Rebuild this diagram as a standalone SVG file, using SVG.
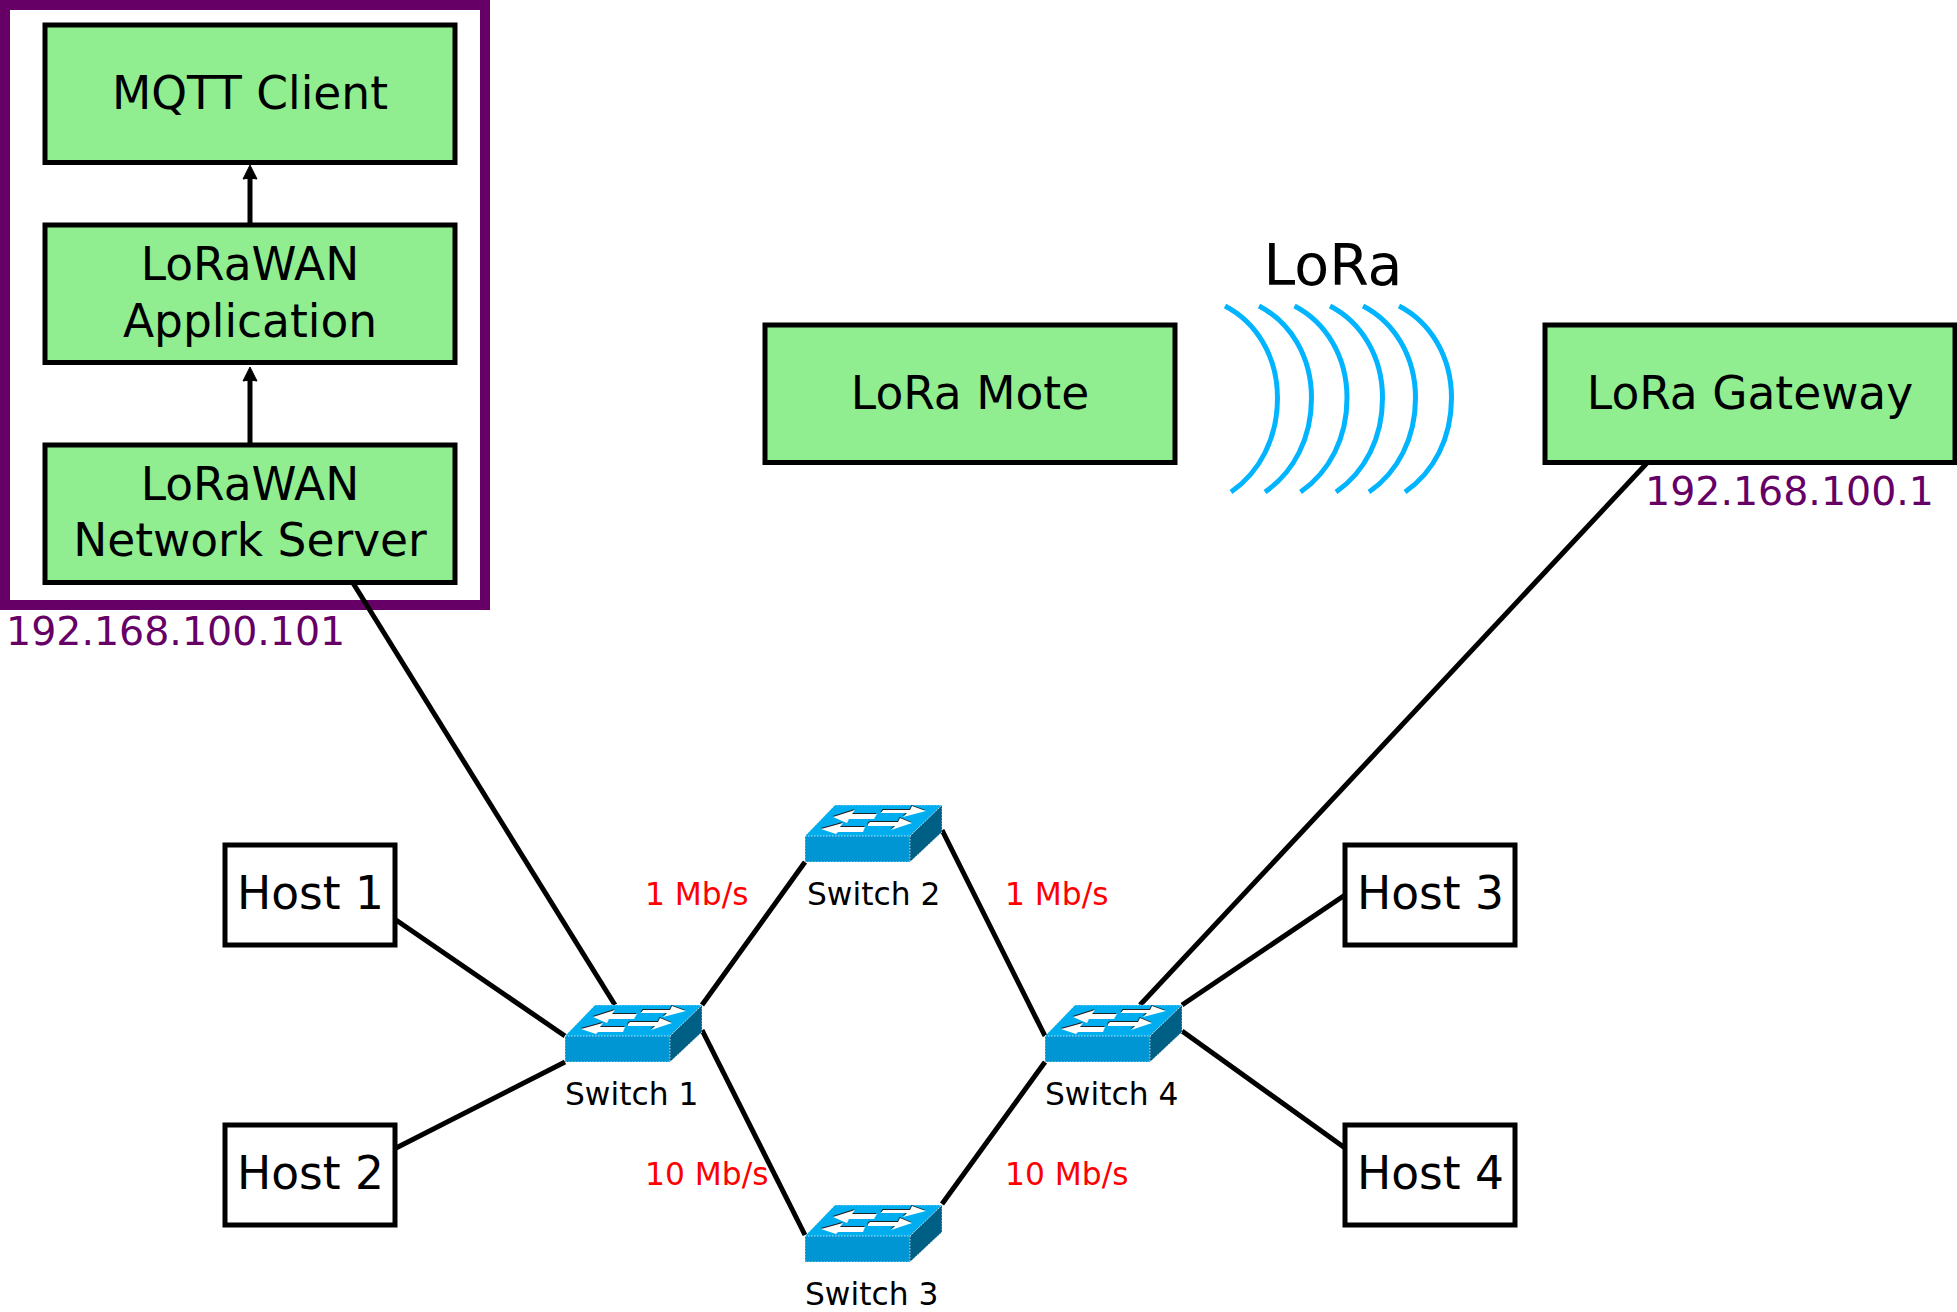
<svg xmlns="http://www.w3.org/2000/svg" width="1957" height="1312" viewBox="0 0 1957 1312">
<style>
.box{fill:#90ee90;stroke:#000;stroke-width:5}
.host{fill:#fff;stroke:#000;stroke-width:5}
text{font-family:"DejaVu Sans",sans-serif;text-anchor:middle;fill:#000}
.t{font-size:45.5px}
.h{font-size:45.5px}
.ip{font-size:39.5px;fill:#660066;text-anchor:start}
.sw{font-size:31.3px;text-anchor:start}
.r{font-size:31.3px;fill:#ff0000;text-anchor:start}
.l{stroke:#000;stroke-width:5;fill:none}
.a{stroke:#00b4ff;stroke-width:5;fill:none}
</style>
<defs>
<marker id="arr" markerUnits="userSpaceOnUse" markerWidth="18" markerHeight="16" refX="2" refY="8" orient="auto"><path d="M1 1L15 8L1 15L2 8Z" fill="#000" stroke="#000"/></marker>
<path id="arrows" d="M28 12L50 5L47 9H72L69 14H44L42 18ZM76 8L78 5H105L107 1L121 6L98 12L102 8ZM16 24L38 18L35 22H60L58 27H33L31 29ZM63 19L65 17H93L95 13L107 18L86 25L90 21H63Z"/>
<g id="switch">
<path d="M0 31L30 0H137L105 31Z" fill="#00aeef"/>
<path d="M0 31H105V57H0Z" fill="#0095d3"/>
<path d="M105 31L137 0V27L105 57Z" fill="#005f85"/>
<path d="M0 31L30 0H137V27L105 57H0ZM105 31L137 0M105 31V57M0 31H105" fill="none" stroke="#fff" stroke-width=".7" stroke-dasharray="1.5 1.5"/>
<use href="#arrows" x="-.5" y="-1" fill="#222"/>
<use href="#arrows" fill="#fff"/>
</g>
</defs>
<rect id="frame" x="5" y="5" width="480" height="600" fill="#fff" stroke="#660066" stroke-width="10"/>
<g id="connectors">
<path class="l" d="M250 223V178" marker-end="url(#arr)"/>
<path class="l" d="M250 443V380" marker-end="url(#arr)"/>
<path class="l" d="M353 583L615 1005"/>
<path class="l" d="M396 920L565 1036"/>
<path class="l" d="M396 1148L565 1062"/>
<path class="l" d="M702 1005L805 862"/>
<path class="l" d="M702 1030L805 1235"/>
<path class="l" d="M942 830L1045 1036"/>
<path class="l" d="M942 1204L1045 1062"/>
<path class="l" d="M1647 463L1140 1005"/>
<path class="l" d="M1345 895L1182 1005"/>
<path class="l" d="M1345 1148L1182 1031"/>
</g>
<g id="mqtt"><rect class="box" x="45" y="25" width="410" height="137.5"/><text class="t" x="250" y="109">MQTT Client</text></g>
<g id="app"><rect class="box" x="45" y="225" width="410" height="137.5"/><text class="t" x="250" y="279.500">LoRaWAN</text><text class="t" x="250" y="336.500">Application</text></g>
<g id="ns"><rect class="box" x="45" y="445" width="410" height="137.5"/><text class="t" x="250" y="499.5">LoRaWAN</text><text class="t" x="250" y="556">Network Server</text></g>
<g id="mote"><rect class="box" x="765" y="325" width="410" height="137.5"/><text class="t" x="970" y="409">LoRa Mote</text></g>
<g id="gateway"><rect class="box" x="1545" y="325" width="410" height="137.5"/><text class="t" x="1750" y="409">LoRa Gateway</text></g>
<g id="lora"><text x="1333" y="285" font-size="57">LoRa</text>
<path id="w1" class="a" d="M1225 306C1256 322 1277.500 356 1277.500 398C1277.500 438 1260 472 1231 492"/>
<use href="#w1" x="34"/>
<use href="#w1" x="69.5"/>
<use href="#w1" x="105"/>
<use href="#w1" x="138"/>
<use href="#w1" x="174"/></g>
<text class="ip" x="6" y="645">192.168.100.101</text>
<text class="ip" x="1645" y="505">192.168.100.1</text>
<g id="host1"><rect class="host" x="225" y="845" width="170" height="100"/><text class="h" x="310.500" y="909">Host 1</text></g>
<g id="host2"><rect class="host" x="225" y="1125" width="170" height="100"/><text class="h" x="310.500" y="1189">Host 2</text></g>
<g id="host3"><rect class="host" x="1345" y="845" width="170" height="100"/><text class="h" x="1430.500" y="909">Host 3</text></g>
<g id="host4"><rect class="host" x="1345" y="1125" width="170" height="100"/><text class="h" x="1430.500" y="1189">Host 4</text></g>
<g id="switch1"><use href="#switch" x="565" y="1005"/><text class="sw" x="565" y="1104.500">Switch 1</text></g>
<g id="switch2"><use href="#switch" x="805" y="805"/><text class="sw" x="807" y="904.500">Switch 2</text></g>
<g id="switch3"><use href="#switch" x="805" y="1205"/><text class="sw" x="805" y="1304.500">Switch 3</text></g>
<g id="switch4"><use href="#switch" x="1045" y="1005"/><text class="sw" x="1045" y="1104.500">Switch 4</text></g>
<text class="r" x="645" y="904.500">1 Mb/s</text>
<text class="r" x="1005" y="904.500">1 Mb/s</text>
<text class="r" x="645" y="1184.500">10 Mb/s</text>
<text class="r" x="1005" y="1184.500">10 Mb/s</text>
</svg>
